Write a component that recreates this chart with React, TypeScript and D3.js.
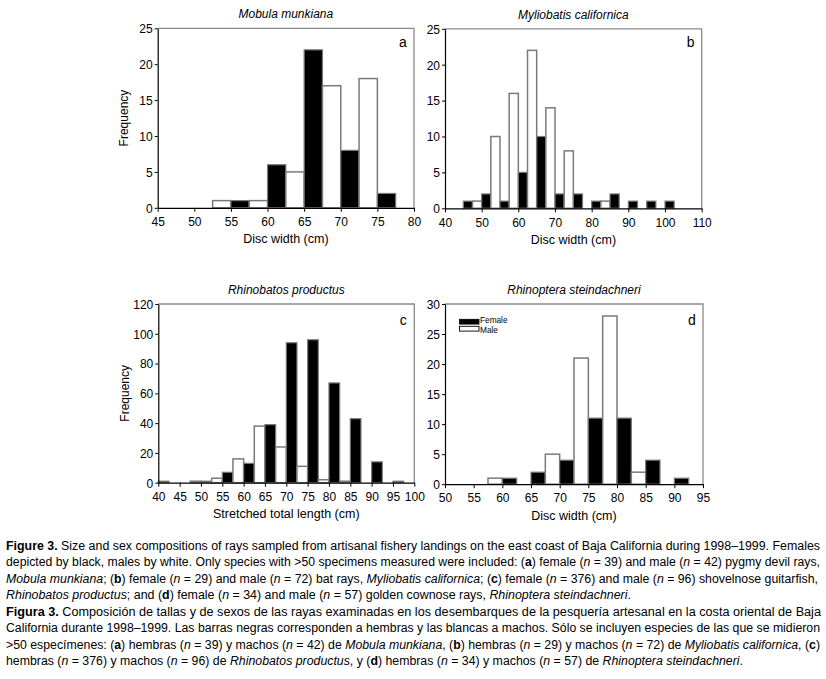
import React, { useEffect, useRef } from "react";
import * as d3 from "d3";

// ---------- data ----------
// bin start (cm); female bar occupies [bin, bin+2.5], male bar [bin+2.5, bin+5]
const binsA = [50, 55, 60, 65, 70, 75];
const femaleA = [0, 1, 6, 22, 8, 2];
const maleA = [1, 1, 5, 17, 18, 0];

const binsB = [45, 50, 55, 60, 65, 70, 75, 80, 85, 90, 95, 100];
const femaleB = [1, 2, 1, 5, 10, 2, 2, 1, 2, 1, 1, 1];
const maleB = [1, 10, 16, 22, 14, 8, 0, 1, 0, 0, 0, 0];

const binsC = [40, 45, 50, 55, 60, 65, 70, 75, 80, 85, 90, 95];
const femaleC = [1, 0, 1, 7, 13, 39, 94, 96, 67, 43, 14, 1];
const maleC = [0, 1, 3, 16, 38, 24, 11, 2, 1, 0, 0, 0];

const binsD = [55, 60, 65, 70, 75, 80, 85, 90];
const femaleD = [0, 1, 2, 4, 11, 11, 4, 1];
const maleD = [1, 0, 5, 21, 28, 2, 0, 0];

const xTicksA = [45, 50, 55, 60, 65, 70, 75, 80];
const yTicksA = [0, 5, 10, 15, 20, 25];
const xTicksB = [40, 50, 60, 70, 80, 90, 100, 110];
const yTicksB = [0, 5, 10, 15, 20, 25];
const xTicksC = [40, 45, 50, 55, 60, 65, 70, 75, 80, 85, 90, 95, 100];
const yTicksC = [0, 20, 40, 60, 80, 100, 120];
const xTicksD = [50, 55, 60, 65, 70, 75, 80, 85, 90, 95];
const yTicksD = [0, 5, 10, 15, 20, 25, 30];

const titles = ["Mobula munkiana", "Myliobatis californica", "Rhinobatos productus", "Rhinoptera steindachneri"];
const letters = ["a", "b", "c", "d"];
const xLabels = ["Disc width (cm)", "Disc width (cm)", "Stretched total length (cm)", "Disc width (cm)"];
const yLabel = "Frequency";
const legendLabels = ["Female", "Male"];

const FONT = "'Liberation Sans', Arial, Helvetica, sans-serif";

type Cfg = {
  bins: number[]; female: number[]; male: number[];
  xTicks: number[]; yTicks: number[];
  left: number; right: number; top: number; bottom: number;
  title: string; letter: string; xLabel: string; showY: boolean; legend: boolean; letterDy: number;
};

const panels: Cfg[] = [
  { bins: binsA, female: femaleA, male: maleA, xTicks: xTicksA, yTicks: yTicksA, left: 157.7, right: 414, top: 28.3, bottom: 207.8, title: titles[0], letter: letters[0], xLabel: xLabels[0], showY: true, legend: false, letterDy: 18.5 },
  { bins: binsB, female: femaleB, male: maleB, xTicks: xTicksB, yTicks: yTicksB, left: 445, right: 701.7, top: 28.8, bottom: 208.3, title: titles[1], letter: letters[1], xLabel: xLabels[1], showY: false, legend: false, letterDy: 18.5 },
  { bins: binsC, female: femaleC, male: maleC, xTicks: xTicksC, yTicks: yTicksC, left: 158.3, right: 414.3, top: 304, bottom: 482.7, title: titles[2], letter: letters[2], xLabel: xLabels[2], showY: true, legend: false, letterDy: 21 },
  { bins: binsD, female: femaleD, male: maleD, xTicks: xTicksD, yTicks: yTicksD, left: 445, right: 703, top: 304, bottom: 484.2, title: titles[3], letter: letters[3], xLabel: xLabels[3], showY: false, legend: true, letterDy: 20.5 },
];

function Panel({ c }: { c: Cfg }) {
  const gx = useRef<SVGGElement>(null);
  const gy = useRef<SVGGElement>(null);
  const x = d3.scaleLinear().domain([c.xTicks[0], c.xTicks[c.xTicks.length - 1]]).range([c.left, c.right]);
  const y = d3.scaleLinear().domain([c.yTicks[0], c.yTicks[c.yTicks.length - 1]]).range([c.bottom, c.top]);

  useEffect(() => {
    const ax = d3.axisBottom(x).tickValues(c.xTicks).tickSize(4).tickSizeOuter(0).tickFormat(d3.format("d"));
    const sx = d3.select(gx.current!);
    sx.call(ax as any);
    sx.attr("font-family", FONT).attr("font-size", 12);
    sx.select(".domain").attr("stroke", "#000").attr("stroke-width", 1.2);
    sx.selectAll(".tick line").attr("stroke", "#000");
    sx.selectAll(".tick text").attr("y", 18.3).attr("dy", null).attr("fill", "#000");

    const ay = d3.axisLeft(y).tickValues(c.yTicks).tickSize(3).tickSizeOuter(0).tickPadding(2).tickFormat(d3.format("d"));
    const sy = d3.select(gy.current!);
    sy.call(ay as any);
    sy.attr("font-family", FONT).attr("font-size", 12);
    sy.select(".domain").attr("stroke", "#000").attr("stroke-width", 1.2);
    sy.selectAll(".tick line").attr("stroke", "#000");
    sy.selectAll(".tick text").attr("dy", "0.36em").attr("fill", "#000");
  });

  const half = 2.5;
  const cx = (c.left + c.right) / 2;
  const cy = (c.top + c.bottom) / 2;
  return (
    <g>
      <path d={`M${c.left},${c.top}H${c.right}V${c.bottom}`} fill="none" stroke="#8a8a8a" strokeWidth={1.3} />
      {c.bins.map((b, i) => (
        <g key={b}>
          {c.female[i] > 0 && (
            <rect x={x(b)} y={y(c.female[i])} width={x(b + half) - x(b)} height={y(0) - y(c.female[i])}
              fill="#000" stroke="#7a7a7a" strokeWidth={1.2} />
          )}
          {c.male[i] > 0 && (
            <rect x={x(b + half)} y={y(c.male[i])} width={x(b + 2 * half) - x(b + half)} height={y(0) - y(c.male[i])}
              fill="#fff" stroke="#7a7a7a" strokeWidth={1.5} />
          )}
        </g>
      ))}
      <g ref={gx} transform={`translate(0,${c.bottom})`} />
      <g ref={gy} transform={`translate(${c.left},0)`} />
      <text x={cx} y={c.top - 10} textAnchor="middle" fontFamily={FONT} fontStyle="italic" fontSize={12}>{c.title}</text>
      <text x={cx} y={c.bottom + 35.5} textAnchor="middle" fontFamily={FONT} fontSize={12.5}>{c.xLabel}</text>
      {c.showY && (
        <text transform={`translate(${c.left - 29.5},${cy}) rotate(-90)`} textAnchor="middle" fontFamily={FONT} fontSize={12}>{yLabel}</text>
      )}
      <text x={c.right - 11} y={c.top + c.letterDy} textAnchor="middle" fontFamily={FONT} fontSize={14}>{c.letter}</text>
      {c.legend && (
        <g>
          <rect x={c.left + 14.5} y={c.top + 15.3} width={19.5} height={4.8} fill="#000" stroke="#000" strokeWidth={0.8} />
          <rect x={c.left + 14.5} y={c.top + 22.3} width={19.5} height={4.8} fill="#fff" stroke="#000" strokeWidth={0.9} />
          <text transform={`translate(${c.left + 35},${c.top + 19}) scale(0.88,1)`} fontFamily={FONT} fontSize={9.4}>{legendLabels[0]}</text>
          <text transform={`translate(${c.left + 35},${c.top + 29.4}) scale(0.88,1)`} fontFamily={FONT} fontSize={9.4}>{legendLabels[1]}</text>
        </g>
      )}
    </g>
  );
}

type Seg = { t: string; b?: boolean; i?: boolean };
const captionLines: { segs: Seg[]; w: number }[] = [
  { w: 814, segs: [{ t: "Figure 3.", b: true }, { t: " Size and sex compositions of rays sampled from artisanal fishery landings on the east coast of Baja California during 1998–1999. Females" }] },
  { w: 814, segs: [{ t: "depicted by black, males by white. Only species with >50 specimens measured were included: (" }, { t: "a", b: true }, { t: ") female (" }, { t: "n", i: true }, { t: " = 39) and male (" }, { t: "n", i: true }, { t: " = 42) pygmy devil rays," }] },
  { w: 812, segs: [{ t: "Mobula munkiana", i: true }, { t: "; (" }, { t: "b", b: true }, { t: ") female (" }, { t: "n", i: true }, { t: " = 29) and male (" }, { t: "n", i: true }, { t: " = 72) bat rays, " }, { t: "Myliobatis californica", i: true }, { t: "; (" }, { t: "c", b: true }, { t: ") female (" }, { t: "n", i: true }, { t: " = 376) and male (" }, { t: "n", i: true }, { t: " = 96) shovelnose guitarfish," }] },
  { w: 625, segs: [{ t: "Rhinobatos productus", i: true }, { t: "; and (" }, { t: "d", b: true }, { t: ") female (" }, { t: "n", i: true }, { t: " = 34) and male (" }, { t: "n", i: true }, { t: " = 57) golden cownose rays, " }, { t: "Rhinoptera steindachneri", i: true }, { t: "." }] },
  { w: 815, segs: [{ t: "Figura 3.", b: true }, { t: " Composición de tallas y de sexos de las rayas examinadas en los desembarques de la pesquería artesanal en la costa oriental de Baja" }] },
  { w: 814, segs: [{ t: "California durante 1998–1999. Las barras negras corresponden a hembras y las blancas a machos. Sólo se incluyen especies de las que se midieron" }] },
  { w: 814, segs: [{ t: ">50 especímenes: (" }, { t: "a", b: true }, { t: ") hembras (" }, { t: "n", i: true }, { t: " = 39) y machos (" }, { t: "n", i: true }, { t: " = 42) de " }, { t: "Mobula munkiana", i: true }, { t: ", (" }, { t: "b", b: true }, { t: ") hembras (" }, { t: "n", i: true }, { t: " = 29) y machos (" }, { t: "n", i: true }, { t: " = 72) de " }, { t: "Myliobatis californica", i: true }, { t: ", (" }, { t: "c", b: true }, { t: ")" }] },
  { w: 737, segs: [{ t: "hembras (" }, { t: "n", i: true }, { t: " = 376) y machos (" }, { t: "n", i: true }, { t: " = 96) de " }, { t: "Rhinobatos productus", i: true }, { t: ", y (" }, { t: "d", b: true }, { t: ") hembras (" }, { t: "n", i: true }, { t: " = 34) y machos (" }, { t: "n", i: true }, { t: " = 57) de " }, { t: "Rhinoptera steindachneri", i: true }, { t: "." }] },
];

const CAP_SCALE = 0.8;

export default function App() {
  return (
    <svg width={826} height={679} viewBox="0 0 826 679"
      style={{ position: "absolute", left: 0, top: 0, background: "#fff", display: "block" }}>
      <rect x={0} y={0} width={826} height={679} fill="#fff" />
      {panels.map((p) => <Panel key={p.letter} c={p} />)}
      {captionLines.map((ln, k) => (
        <text key={k} transform={`translate(6,${549.5 + k * 16.5}) scale(${CAP_SCALE},1)`} x={0} y={0}
          fontFamily={FONT} fontSize={13.5} fill="#000"
          textLength={ln.w / CAP_SCALE} lengthAdjust="spacingAndGlyphs">
          {ln.segs.map((s, j) => (
            <tspan key={j} fontWeight={s.b ? "bold" : "normal"} fontStyle={s.i ? "italic" : "normal"}>{s.t}</tspan>
          ))}
        </text>
      ))}
    </svg>
  );
}
